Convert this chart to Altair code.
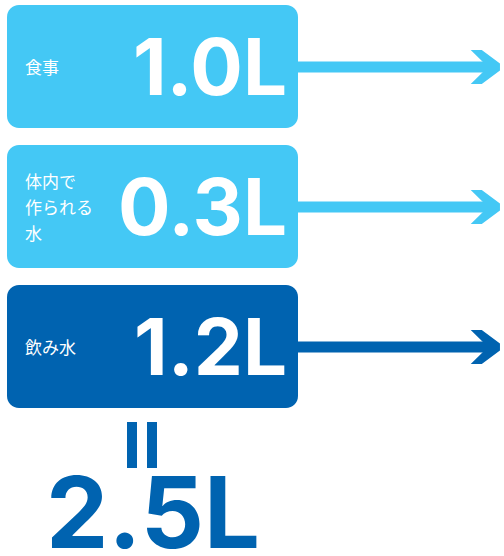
import altair as alt
import pandas as pd

# ---- data ----
labels = ["食事", "体内で\n作られる\n水", "飲み水"]
amounts = [1.0, 0.3, 1.2]
shades = ["light", "light", "dark"]
shade_names = ["light", "dark"]
shade_colors = ["#44C8F5", "#0063B0"]

df = pd.DataFrame({"label": labels, "amount": amounts, "shade": shades})

# ---- layout constants ----
W, H = 504, 556
TOP, STEP, BOX_H = 5, 140, 123
BOX_X0, BOX_X1 = 7, 298
HEAD_X = 485
CHEVRON = "M-0.84,-1L-0.19,-1L0.88,-0.21L0.88,0.21L-0.19,1L-0.84,1L0.18,0Z"
NUM_FONT = "Inter"

xs = alt.Scale(domain=[0, W], nice=False, zero=False)
ys = alt.Scale(domain=[0, H], nice=False, zero=False, reverse=True)
cs = alt.Scale(domain=shade_names, range=shade_colors)

base = alt.Chart(df).transform_window(
    row="row_number()"
).transform_calculate(
    top=f"{TOP} + (datum.row - 1) * {STEP}",
    bottom=f"datum.top + {BOX_H}",
    mid="datum.top + 62",
    ly="datum.top + 64 - (length(split(datum.label, '\\n')) - 1) * 13",
    bx0=f"{BOX_X0}",
    bx1=f"{BOX_X1}",
    hx=f"{HEAD_X}",
    sx1=f"{HEAD_X + 3}",
    lx="25",
    vx="287",
    vy="datum.top + 90",
    valtext="format(datum.amount, '.1f') + 'L'",
)

X = lambda f: alt.X(f, scale=xs, axis=None)
Y = lambda f: alt.Y(f, scale=ys, axis=None)
C = alt.Color("shade:N", scale=cs, legend=None)

boxes = base.mark_rect(cornerRadius=12).encode(
    x=X("bx0:Q"), x2="bx1:Q", y=Y("top:Q"), y2="bottom:Q", color=C
)
shaft = base.mark_rule(strokeWidth=11).encode(
    x=X("bx1:Q"), x2="sx1:Q", y=Y("mid:Q"), color=C
)
head = base.mark_point(shape=CHEVRON, filled=True, size=1156, opacity=1).encode(
    x=X("hx:Q"), y=Y("mid:Q"), color=C
)
label_text = base.mark_text(
    align="left", baseline="middle", lineBreak="\n", lineHeight=26,
    font="Noto Sans CJK JP", fontSize=17, color="white"
).encode(x=X("lx:Q"), y=Y("ly:Q"), text="label:N")
value_text = base.mark_text(
    align="right", baseline="alphabetic", font=NUM_FONT,
    fontWeight="bold", fontSize=78, color="white"
).encode(x=X("vx:Q"), y=Y("vy:Q"), text="valtext:N")

tot = alt.Chart(df).transform_aggregate(
    total="sum(amount)"
).transform_calculate(
    tottext="format(datum.total, '.1f') + 'L'",
    tx="153", ty="548", ex="142", ey0="422", ey1="468",
)
total_text = tot.mark_text(
    align="center", baseline="alphabetic", font=NUM_FONT,
    fontWeight="bold", fontSize=99, color=shade_colors[1]
).encode(x=X("tx:Q"), y=Y("ty:Q"), text="tottext:N")
# the rotated "=" sign between the boxes and the total
eq_left = tot.mark_rule(strokeWidth=10, xOffset=-10, color=shade_colors[1]).encode(
    x=X("ex:Q"), y=Y("ey0:Q"), y2="ey1:Q"
)
eq_right = tot.mark_rule(strokeWidth=10, xOffset=10, color=shade_colors[1]).encode(
    x=X("ex:Q"), y=Y("ey0:Q"), y2="ey1:Q"
)

chart = alt.layer(
    boxes, shaft, head, label_text, value_text, total_text, eq_left, eq_right
).properties(
    width=W, height=H, autosize="none", padding=0, background="white"
).configure_view(stroke=None)

chart.save("out.html", embed_options={"renderer": "svg", "actions": False})
